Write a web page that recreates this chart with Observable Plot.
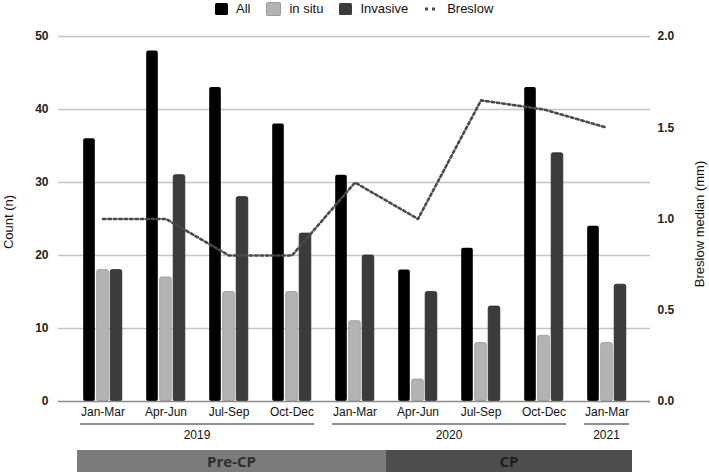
<!DOCTYPE html>
<html><head><meta charset="utf-8">
<script src="https://cdn.jsdelivr.net/npm/d3@7"></script>
<script src="https://cdn.jsdelivr.net/npm/@observablehq/plot@0.6"></script>
<style>
body{margin:0;background:#fff;font-family:"Liberation Sans",Arial,sans-serif;}
#wrap{position:relative;width:709px;height:473px;}
#legend{position:absolute;left:215px;top:2px;display:flex;align-items:center;font-size:13px;color:#111;height:13px;z-index:2}
.item{display:flex;align-items:center;margin-right:16px}
.sw{width:13px;height:12px;border-radius:1.5px;margin-right:8px}
</style></head><body><div id="wrap"><div id="legend"></div></div>
<script>
const quarters = ["Jan-Mar","Apr-Jun","Jul-Sep","Oct-Dec","Jan-Mar","Apr-Jun","Jul-Sep","Oct-Dec","Jan-Mar"];
const years = ["2019","2019","2019","2019","2020","2020","2020","2020","2021"];
const periods = ["Pre-CP","Pre-CP","Pre-CP","Pre-CP","Pre-CP","CP","CP","CP","CP"];
const allCounts = [36,48,43,38,31,18,21,43,24];
const inSituCounts = [18,17,15,15,11,3,8,9,8];
const invasiveCounts = [18,31,28,23,20,15,13,34,16];
const breslowMedian = [1.0,1.0,0.8,0.8,1.2,1.0,1.65,1.6,1.5];
const countTicks = [0,10,20,30,40,50];
const breslowTicks = [0,0.5,1.0,1.5,2.0];
const seriesNames = ["All","in situ","Invasive","Breslow"];

const seriesColors = ["#000000","#b3b3b3","#3b3b3b","#4a4a4a"];
const keys = quarters.map((q,i)=> years[i]+" "+q);
const quarterOf = new Map(keys.map((k,i)=>[k,quarters[i]]));
const rows = keys.map((k,i)=>({key:k, year:years[i], period:periods[i], all:allCounts[i], insitu:inSituCounts[i], invasive:invasiveCounts[i], breslow:breslowMedian[i]}));

const W=709, H=473, mL=58, mR=59, mT=36, mB=72, padOuter=0.17, barW=12, barGap=13.5;
const step=(W-mL-mR)/(keys.length+2*padOuter);
const inset=(step-barW)/2;
const ratio = d3.max(countTicks)/d3.max(breslowTicks);
const barStyle = {x:"key", insetLeft:inset, insetRight:inset, rx:2};
const font = "Liberation Sans, Arial, sans-serif";

const chart = Plot.plot({
  width:W, height:H, marginLeft:mL, marginRight:mR, marginTop:mT, marginBottom:mB,
  style:{fontFamily:font, fontSize:"12px", color:"#111", background:"#fff", overflow:"visible"},
  x:{domain:keys, type:"band", paddingInner:0, paddingOuter:padOuter, label:null},
  y:{domain:[0, d3.max(countTicks)], label:null},
  marks:[
    Plot.ruleY(countTicks.filter(d=>d>0), {stroke:"#c4c4c4", strokeWidth:1.3}),
    Plot.barY(rows, {...barStyle, y:"all", dx:-barGap, fill:seriesColors[0]}),
    Plot.barY(rows, {...barStyle, y:"insitu", fill:seriesColors[1], stroke:"#969696", strokeWidth:0.8}),
    Plot.barY(rows, {...barStyle, y:"invasive", dx:barGap, fill:seriesColors[2], stroke:"#2a2a2a", strokeWidth:0.8}),
    Plot.ruleY([0], {stroke:"#8a8a8a", strokeWidth:1.5}),
    Plot.line(rows, {x:"key", y:d=>d.breslow*ratio, stroke:seriesColors[3], strokeWidth:2.6, strokeDasharray:"2.6,2.8"}),
    Plot.axisY(countTicks, {anchor:"left", tickSize:0, tickPadding:10, label:null, fontWeight:"bold", fill:"#222"}),
    Plot.axisY(breslowTicks.map(t=>t*ratio), {anchor:"right", tickSize:0, tickPadding:7, label:null, tickFormat:d=>(d/ratio).toFixed(1), fontWeight:"bold", fill:"#222"}),
    Plot.axisX({tickSize:0, tickPadding:6, label:null, tickFormat:k=>quarterOf.get(k), fill:"#111"})
  ]
});

document.getElementById("wrap").appendChild(chart);

const x = chart.scale("x");
const bw = x.bandwidth;
const svg = d3.select(chart);

// year groups
const yearGroups = d3.groups(rows, d=>d.year);
const gy = svg.append("g");
yearGroups.forEach(([yr, list])=>{
  const x0 = x.apply(list[0].key) + 9;
  const x1 = x.apply(list[list.length-1].key) + bw - 9;
  gy.append("line").attr("x1",x0).attr("x2",x1).attr("y1",424).attr("y2",424)
    .attr("stroke","#6a6a6a").attr("stroke-width",1.5);
  gy.append("text").attr("x",(x0+x1)/2).attr("y",439).attr("text-anchor","middle")
    .attr("font-size",12).attr("font-family",font).attr("fill","#111").text(yr);
});

// period bands
const periodGroups = d3.groups(rows, d=>d.period);
const periodFill = {"Pre-CP":"#7b7b7b","CP":"#4e4e4e"};
const periodText = {"Pre-CP":"#2e2e2e","CP":"#1c1c1c"};
const firstKey = keys[0], lastKey = keys[keys.length-1];
periodGroups.forEach(([p, list])=>{
  let x0 = x.apply(list[0].key), x1 = x.apply(list[list.length-1].key) + bw;
  if (list[0].key===firstKey) x0 += 6;
  if (list[list.length-1].key===lastKey) x1 -= 6;
  svg.append("rect").attr("x",x0).attr("y",450).attr("width",x1-x0).attr("height",22).attr("fill",periodFill[p]);
  svg.append("text").attr("x",(x0+x1)/2).attr("y",466.5).attr("text-anchor","middle")
    .attr("font-size",15).attr("font-weight","bold").attr("font-family","Open Sans, Liberation Sans, sans-serif")
    .attr("fill",periodText[p]).text(p);
});

// axis titles
svg.append("text").attr("transform","translate(13,222) rotate(-90)").attr("text-anchor","middle")
  .attr("font-size",13).attr("font-family",font).attr("fill","#111").text("Count (n)");
svg.append("text").attr("transform","translate(704,224) rotate(-90)").attr("text-anchor","middle")
  .attr("font-size",13).attr("font-family",font).attr("fill","#111").text("Breslow median (mm)");

// legend
const legend = document.getElementById("legend");
seriesNames.forEach((name,i)=>{
  const item = document.createElement("div"); item.className="item";
  if (name==="Breslow") {
    item.innerHTML = `<svg width="14" height="12" style="margin-right:9px"><line x1="1" x2="14" y1="6" y2="6" stroke="${seriesColors[i]}" stroke-width="3" stroke-dasharray="3,4"/></svg>`;
  } else {
    const sw = document.createElement("div"); sw.className="sw"; sw.style.background=seriesColors[i];
    if (i===1) sw.style.border="0.5px solid #9a9a9a";
    item.appendChild(sw);
  }
  const t = document.createElement("span"); t.textContent=name; item.appendChild(t);
  legend.appendChild(item);
});
</script></body></html>
